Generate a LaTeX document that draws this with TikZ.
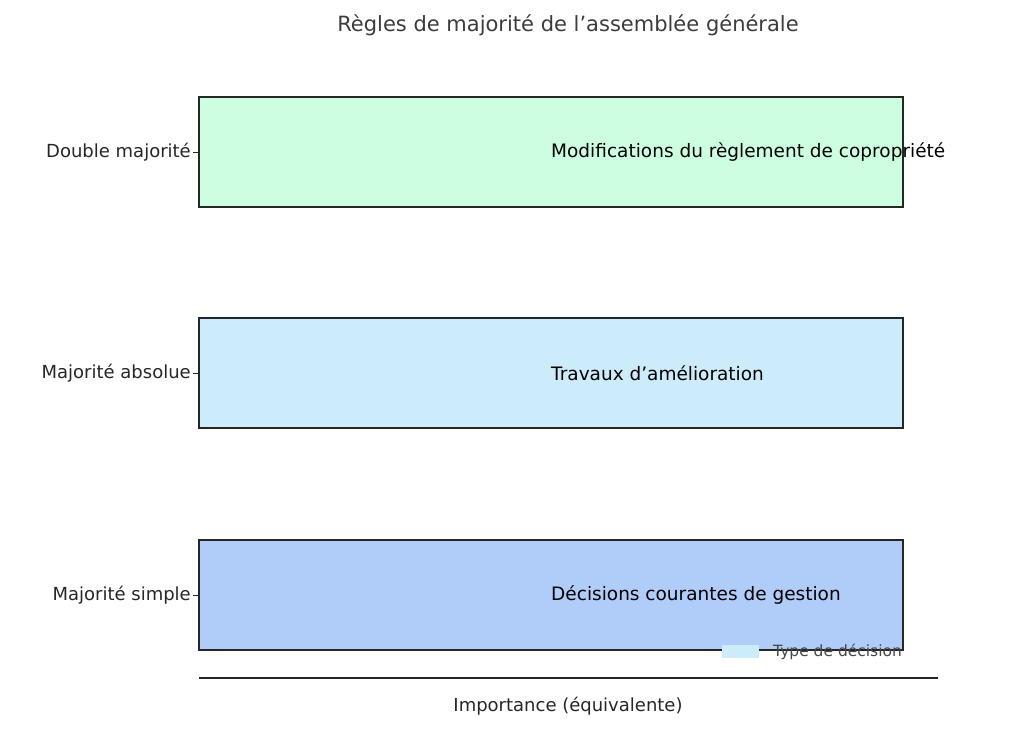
\documentclass[tikz,border=0pt]{standalone}
\usepackage{fontspec}
\setmainfont{DejaVu Sans}
\usetikzlibrary{positioning}
\definecolor{vertpale}{HTML}{CCFFE1}
\definecolor{bleupale}{HTML}{CCEBFB}
\definecolor{bleumoyen}{HTML}{B0CCF8}
\definecolor{texte}{HTML}{262626}
\tikzset{
  barre/.style={draw=black!85,line width=1.3pt},
  etiq/.style={anchor=west,font=\fontsize{18.5}{20}\selectfont,text=black,inner sep=0pt},
  categorie/.style={anchor=east,font=\fontsize{18}{20}\selectfont,text=texte,inner sep=0pt}
}
\begin{document}
\begin{tikzpicture}[x=1pt,y=-1pt]
\useasboundingbox (0,0) rectangle (1024,731);
\node[font=\fontsize{21}{24}\selectfont,text=texte!90] (titre) at (568,25) {Règles de majorité de l'assemblée générale};

\draw [barre,fill=vertpale] (199,97) rectangle (903,207);
\draw [barre,fill=bleupale] (199,318) rectangle (903,428);
\draw [barre,fill=bleumoyen] (199,540) rectangle (903,650);

\node[etiq] (modif) at (551,152) {Modifications du règlement de copropriété};
\node[etiq] (travaux) at (551,373) {Travaux d'amélioration};
\node[etiq] (courant) at (551,595) {Décisions courantes de gestion};

% axe des categories
\foreach \y/\nom in {152/Double majorité,373/Majorité absolue,595/Majorité simple}{
  \draw [black!85,line width=0.8pt] (193,\y)--(199,\y);
  \node[categorie] at (191,\y) {\nom};
}

\draw [black!85,line width=1.3pt] (199,678)--(938,678);
\node[font=\fontsize{18}{20}\selectfont,text=texte] (axe) at (568,706) {Importance (équivalente)};

% legende
\fill [bleupale] (722,645) rectangle (759,658);
\node[anchor=west,inner sep=0pt,font=\fontsize{15.5}{18}\selectfont,text=texte!85] (leg) at (773,652) {Type de décision};
\end{tikzpicture}
\end{document}
